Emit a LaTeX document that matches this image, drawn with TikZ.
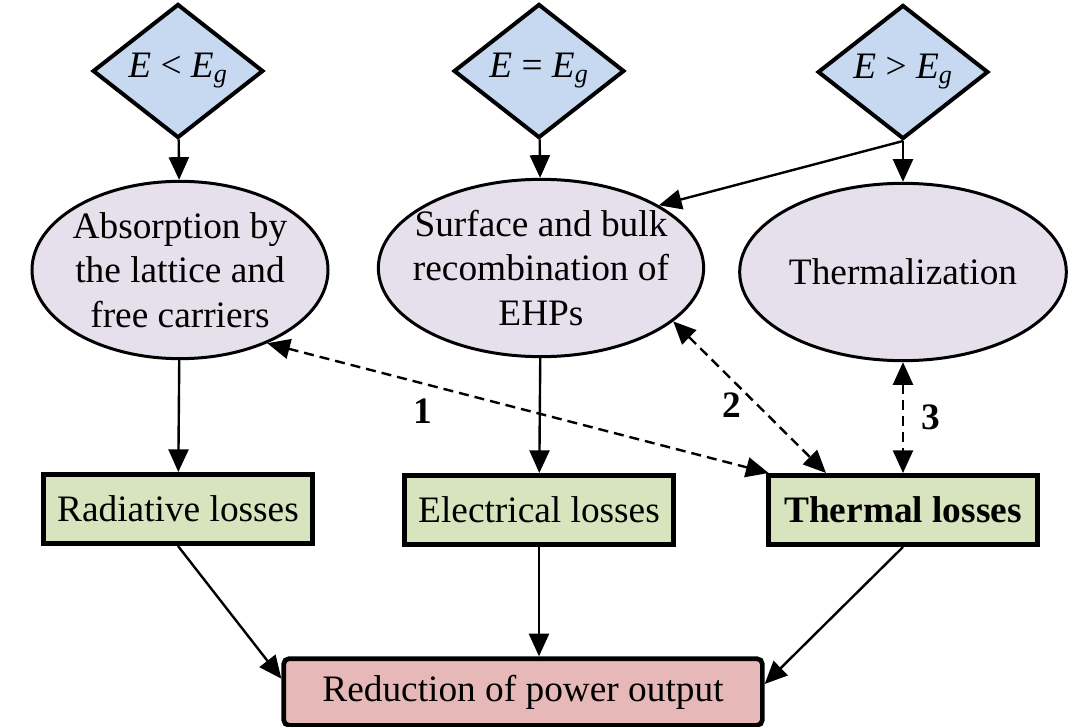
\documentclass[tikz,border=0pt]{standalone}
\usepackage{fontspec}
\setmainfont{Liberation Serif}
\usetikzlibrary{shapes.geometric,arrows.meta}
\definecolor{dblue}{RGB}{198,217,241}
\definecolor{elav}{RGB}{229,224,236}
\definecolor{bgreen}{RGB}{215,228,189}
\definecolor{rpink}{RGB}{230,185,184}
\begin{document}
\begin{tikzpicture}[x=0.75pt,y=-0.75pt,
  every node/.style={font=\fontsize{28pt}{33.5pt}\selectfont},
  dia/.style={diamond, draw, line width=3pt, fill=dblue, inner sep=0pt, minimum width=128pt, minimum height=93pt},
  ell/.style={ellipse, draw, line width=2.25pt, fill=elav, minimum height=133pt, inner sep=0pt},
  lossbox/.style={rectangle, draw, line width=3.5pt, fill=bgreen, minimum width=202pt, minimum height=52pt, inner sep=0pt},
  redbox/.style={rectangle, rounded corners=4pt, draw, line width=3.5pt, fill=rpink, minimum width=359pt, minimum height=50pt, inner sep=0pt},
  arr/.style={line width=1.8pt, -{Triangle[length=17pt,width=15pt]}},
  darr/.style={line width=1.8pt, dash pattern=on 7.5pt off 4.5pt, {Triangle[length=17pt,width=15pt]}-{Triangle[length=17pt,width=15pt]}},
  num/.style={font=\fontsize{28pt}{33.5pt}\selectfont\bfseries}
]
\useasboundingbox (0,0) rectangle (1072,727);

% diamonds
\node[dia] (d1) at (178,71) {\textit{E} < \textit{E}\textsubscript{\textit{g}}};
\node[dia] (d2) at (539,71) {\textit{E} = \textit{E}\textsubscript{\textit{g}}};
\node[dia] (d3) at (903,72) {\textit{E} > \textit{E}\textsubscript{\textit{g}}};

% ellipses
\node[ell, minimum width=222pt, label={[align=center]center:Absorption by\\the lattice and\\free carriers}] (e1) at (180,270) {};
\node[ell, minimum width=244pt, label={[align=center]center:Surface and bulk\\recombination of\\EHPs}] (e2) at (541,268) {};
\node[ell, minimum width=245pt, label={center:Thermalization}] (e3) at (903,272) {};

% loss boxes
\node[lossbox] (rad) at (178,509) {Radiative losses};
\node[lossbox] (el) at (539,510) {Electrical losses};
\node[lossbox] (th) at (903,510) {\textbf{Thermal losses}};

% reduction
\node[redbox] (red) at (523,692) {Reduction of power output};

% connectors
\draw[arr] (d1) -- (e1);
\draw[arr] (d2) -- (e2);
\draw[arr] (d3) -- (e3);
\draw[arr] (d3.south) -- (e2.28);
\draw[arr] (e1) -- (rad);
\draw[arr] (e2) -- (el);
\draw[arr] (rad.south) -- ([yshift=10pt]red.west);
\draw[arr] (el.south) -- (el.south |- red.north);
\draw[arr] (th.south) -- ([yshift=6pt]red.east);

\draw[darr] (e1.-40) -- ([xshift=2pt]th.north west) node[pos=0.31, below=7pt, num] (n1) {1};
\draw[darr] (e2.-22) -- ([xshift=45pt]th.north west) node[pos=0.55, left=8pt, num] (n2) {2};
\draw[darr] (e3) -- (th) node[midway, right=10pt, num] (n3) {3};
\end{tikzpicture}
\end{document}
